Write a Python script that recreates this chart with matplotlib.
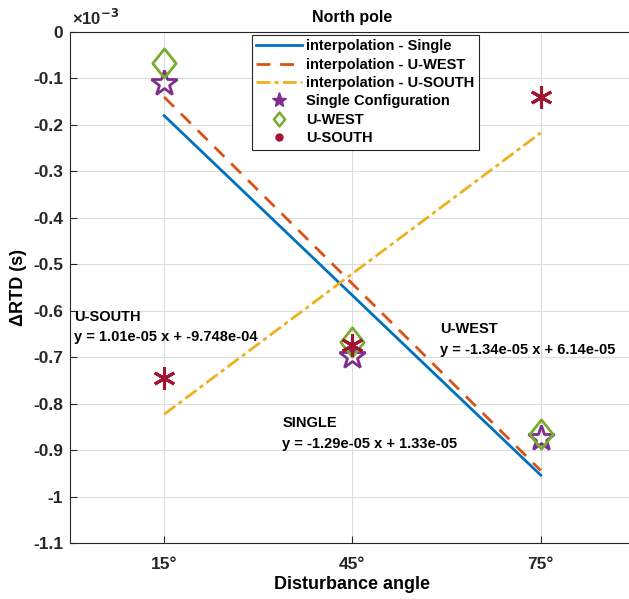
import matplotlib
matplotlib.use("Agg")
import matplotlib.pyplot as plt
from matplotlib.lines import Line2D
from matplotlib.path import Path
from matplotlib.ticker import FuncFormatter

plt.rcParams['font.family'] = ['Liberation Sans', 'DejaVu Sans']
plt.rcParams['font.weight'] = 'bold'
plt.rcParams['axes.unicode_minus'] = False

# disturbance angles (deg)
angles = [15, 45, 75]
tick_labels = ['15°', '45°', '75°']

# measured delta RTD (s)
single = [-0.109e-3, -0.697e-3, -0.875e-3]
u_west = [-0.066e-3, -0.667e-3, -0.866e-3]
u_south = [-0.744e-3, -0.673e-3, -0.140e-3]

# interpolation lines, end points (s)
fit_x = [15, 75]
fit_single = [-0.180e-3, -0.954e-3]
fit_west = [-0.140e-3, -0.944e-3]
fit_south = [-0.823e-3, -0.217e-3]

c_single = '#0072BD'
c_west = '#D95319'
c_south = '#EDB120'
m_single = '#7E2F8E'
m_west = '#77AC30'
m_south = '#A2142F'

# matlab-like diamond (a bit taller than wide)
diamond = Path([(0, 1), (0.8, 0), (0, -1), (-0.8, 0), (0, 1)],
               [Path.MOVETO, Path.LINETO, Path.LINETO, Path.LINETO, Path.CLOSEPOLY])

s = 1e3  # plot in units of 1e-3 s

fig = plt.figure(figsize=(6.29, 5.99), dpi=100)
ax = fig.add_axes([0.1113, 0.0935, 0.898, 0.853])

ax.plot(fit_x, [v * s for v in fit_single], '-', color=c_single, lw=2)
ax.plot(fit_x, [v * s for v in fit_west], '--', color=c_west, lw=2, dashes=(5, 3.5))
ax.plot(fit_x, [v * s for v in fit_south], '-.', color=c_south, lw=2, dashes=(5, 1.5, 1.5, 1.5))

ax.plot(angles, [v * s for v in single], linestyle='none', marker='*', ms=19,
        mfc='none', mec=m_single, mew=2)
ax.plot(angles, [v * s for v in u_west], linestyle='none', marker=diamond, ms=21,
        mfc='none', mec=m_west, mew=2)
ax.plot(angles, [v * s for v in u_south], linestyle='none', marker=(6, 2, 0), ms=16,
        mec=m_south, mew=2.2)

ax.set_xlim(0, 90)
ax.set_ylim(-1.1, 0)
ax.set_xticks(angles)
ax.set_xticklabels(tick_labels)
ax.set_yticks([-1.1 + 0.1 * i for i in range(12)])
ax.yaxis.set_major_formatter(FuncFormatter(lambda v, p: '%g' % round(v, 2)))
ax.tick_params(direction='in', labelsize=12.5, length=5, colors='#262626')
ax.tick_params(axis='x', pad=10)
ax.tick_params(axis='y', pad=5)
ax.grid(True, color='#dcdcdc', lw=0.8)
ax.set_axisbelow(True)
for sp in ax.spines.values():
    sp.set_color('#262626')
ax.spines['right'].set_visible(False)

ax.set_title('North pole', fontsize=11.5, fontweight='bold', pad=7)
ax.set_xlabel('Disturbance angle', fontsize=13, fontweight='bold', labelpad=3)
ax.set_ylabel('ΔRTD (s)', fontsize=13, fontweight='bold', labelpad=4)
ax.text(0.003, 1.008, '×10$^{\\mathbf{-3}}$', transform=ax.transAxes, fontsize=12,
        va='bottom', ha='left', color='#262626')

ax.text(0.7, -0.672, 'U-SOUTH\ny = 1.01e-05 x + -9.748e-04', fontsize=10.5,
        fontweight='bold', va='bottom', linespacing=1.58)
ax.text(58.9, -0.699, 'U-WEST\ny = -1.34e-05 x + 6.14e-05', fontsize=10.5,
        fontweight='bold', va='bottom', linespacing=1.58)
ax.text(33.8, -0.901, 'SINGLE\ny = -1.29e-05 x + 1.33e-05', fontsize=10.5,
        fontweight='bold', va='bottom', linespacing=1.58)

handles = [
    Line2D([], [], color=c_single, lw=2, ls='-'),
    Line2D([], [], color=c_west, lw=2, ls='--', dashes=(5, 3.5)),
    Line2D([], [], color=c_south, lw=2, ls='-.', dashes=(5, 1.5, 1.5, 1.5)),
    Line2D([], [], color=m_single, ls='none', marker='*', ms=11),
    Line2D([], [], color=m_west, ls='none', marker=diamond, ms=10, mfc='none', mew=1.8),
    Line2D([], [], color=m_south, ls='none', marker='o', ms=5),
]
labels = ['interpolation - Single', 'interpolation - U-WEST', 'interpolation - U-SOUTH',
          'Single Configuration', 'U-WEST', 'U-SOUTH']
leg = ax.legend(handles, labels, loc='upper left', bbox_to_anchor=(252 / 629, 1 - 35 / 599),
                bbox_transform=fig.transFigure, fontsize=10.5, handlelength=3.1,
                labelspacing=0.3, borderpad=0.3, handletextpad=0.3, borderaxespad=0,
                fancybox=False, framealpha=1)
leg.get_frame().set_edgecolor('#262626')
leg.get_frame().set_linewidth(0.8)

fig.savefig('out.png', dpi=100)
